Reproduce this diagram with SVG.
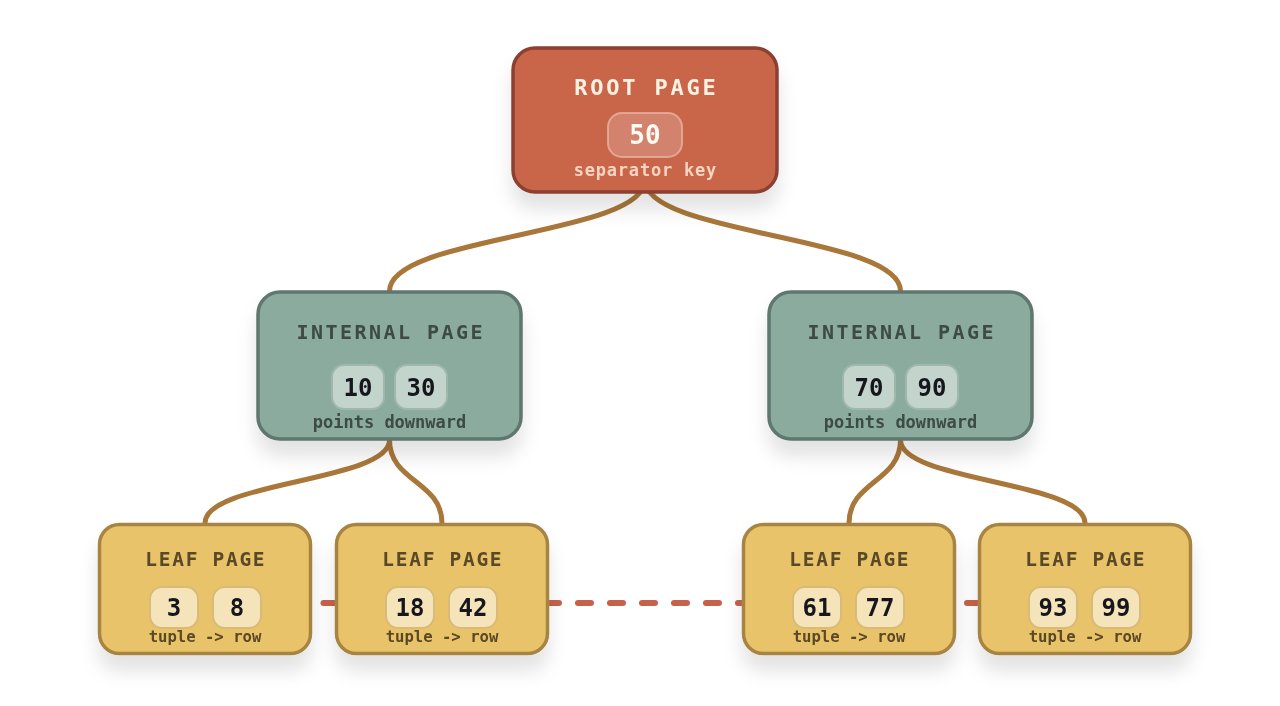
<svg xmlns="http://www.w3.org/2000/svg" width="1280" height="706" viewBox="0 0 1280 706">
  <defs>
    <filter id="shadow" x="-20%" y="-20%" width="140%" height="160%">
      <feDropShadow dx="0" dy="16" stdDeviation="9" flood-color="#000" flood-opacity="0.11"/>
    </filter>
    <style>
      text { font-family: "DejaVu Sans Mono", "Liberation Mono", monospace; font-weight: bold; text-anchor: middle; }
      .root { fill: #c96549; stroke: #8c4130; stroke-width: 3.5; }
      .internal { fill: #8aab9e; stroke: #5e776e; stroke-width: 3.5; }
      .leaf { fill: #e8c36b; stroke: #a88443; stroke-width: 3.5; }
      .rootpill { fill: #ffffff; fill-opacity: 0.2; stroke: #eab1a2; stroke-opacity: 0.8; stroke-width: 2; }
      .intpill { fill: #c3d4cd; stroke: #9fb8ad; stroke-width: 2; }
      .leafpill { fill: #f5e4ba; stroke: #d9bb79; stroke-width: 2; }
      .t-root { font-size: 22px; letter-spacing: 2.8px; fill: #fdf1e4; }
      .t-int { font-size: 20px; letter-spacing: 2.45px; fill: #3e4b46; }
      .t-leaf { font-size: 19.5px; letter-spacing: 1.7px; fill: #5a4828; }
      .k-root { font-size: 26px; fill: #fffaf4; }
      .k { font-size: 24px; fill: #15191d; }
      .s-root { font-size: 17px; letter-spacing: 0.8px; fill: #f7d4c2; }
      .s-int { font-size: 17px; fill: #3e4b46; }
      .s-leaf { font-size: 15.6px; fill: #5a4828; }
      .edge { fill: none; stroke: #a9773a; stroke-width: 5; stroke-linecap: round; }
      .sib { fill: none; stroke: #c7614a; stroke-width: 6; stroke-linecap: round; stroke-dasharray: 13 19; }
    </style>
  </defs>

  <g id="connectors">
    <path class="edge" d="M645,180 C645,235.5 389.5,235.5 389.5,291"/>
    <path class="edge" d="M645,180 C645,235.5 900.5,235.5 900.5,291"/>
    <path class="edge" d="M389.5,440 C389.5,481.5 205,481.5 205,523"/>
    <path class="edge" d="M389.5,440 C389.5,481.5 442,481.5 442,523"/>
    <path class="edge" d="M900.5,440 C900.5,481.5 849,481.5 849,523"/>
    <path class="edge" d="M900.5,440 C900.5,481.5 1085,481.5 1085,523"/>
    <path class="sib" d="M323.5,603 H345"/>
    <path class="sib" d="M546,603 H750"/>
    <path class="sib" d="M967,603 H990"/>
  </g>

  <g id="root" filter="url(#shadow)">
    <rect class="root" x="513" y="48" width="264" height="144" rx="22"/>
    <text class="t-root" x="646.4" y="94.5">ROOT PAGE</text>
    <rect class="rootpill" x="608" y="113" width="74" height="44" rx="14"/>
    <text class="k-root" x="645" y="143.5">50</text>
    <text class="s-root" x="645.4" y="176">separator key</text>
  </g>

  <g id="internal-left" filter="url(#shadow)">
    <rect class="internal" x="258" y="292" width="263" height="147" rx="22"/>
    <text class="t-int" x="390.7" y="338.5">INTERNAL PAGE</text>
    <rect class="intpill" x="332" y="365" width="52" height="44" rx="12"/>
    <text class="k" x="358" y="396">10</text>
    <rect class="intpill" x="395" y="365" width="52" height="44" rx="12"/>
    <text class="k" x="421" y="396">30</text>
    <text class="s-int" x="389.5" y="427.5">points downward</text>
  </g>

  <g id="internal-right" filter="url(#shadow)">
    <rect class="internal" x="769" y="292" width="263" height="147" rx="22"/>
    <text class="t-int" x="901.7" y="338.5">INTERNAL PAGE</text>
    <rect class="intpill" x="843" y="365" width="52" height="44" rx="12"/>
    <text class="k" x="869" y="396">70</text>
    <rect class="intpill" x="906" y="365" width="52" height="44" rx="12"/>
    <text class="k" x="932" y="396">90</text>
    <text class="s-int" x="900.5" y="427.5">points downward</text>
  </g>

  <g id="leaf-1" filter="url(#shadow)">
    <rect class="leaf" x="99.5" y="524.5" width="211" height="129" rx="20"/>
    <text class="t-leaf" x="205.8" y="566">LEAF PAGE</text>
    <rect class="leafpill" x="150" y="587" width="48" height="41" rx="12"/>
    <text class="k" x="174" y="616">3</text>
    <rect class="leafpill" x="213" y="587" width="48" height="41" rx="12"/>
    <text class="k" x="237" y="616">8</text>
    <text class="s-leaf" x="205" y="642">tuple -&gt; row</text>
  </g>

  <g id="leaf-2" filter="url(#shadow)">
    <rect class="leaf" x="336.5" y="524.5" width="211" height="129" rx="20"/>
    <text class="t-leaf" x="442.8" y="566">LEAF PAGE</text>
    <rect class="leafpill" x="386" y="587" width="48" height="41" rx="12"/>
    <text class="k" x="410" y="616">18</text>
    <rect class="leafpill" x="449" y="587" width="48" height="41" rx="12"/>
    <text class="k" x="473" y="616">42</text>
    <text class="s-leaf" x="442" y="642">tuple -&gt; row</text>
  </g>

  <g id="leaf-3" filter="url(#shadow)">
    <rect class="leaf" x="743.5" y="524.5" width="211" height="129" rx="20"/>
    <text class="t-leaf" x="849.8" y="566">LEAF PAGE</text>
    <rect class="leafpill" x="793" y="587" width="48" height="41" rx="12"/>
    <text class="k" x="817" y="616">61</text>
    <rect class="leafpill" x="856" y="587" width="48" height="41" rx="12"/>
    <text class="k" x="880" y="616">77</text>
    <text class="s-leaf" x="849" y="642">tuple -&gt; row</text>
  </g>

  <g id="leaf-4" filter="url(#shadow)">
    <rect class="leaf" x="979.5" y="524.5" width="211" height="129" rx="20"/>
    <text class="t-leaf" x="1085.8" y="566">LEAF PAGE</text>
    <rect class="leafpill" x="1029" y="587" width="48" height="41" rx="12"/>
    <text class="k" x="1053" y="616">93</text>
    <rect class="leafpill" x="1092" y="587" width="48" height="41" rx="12"/>
    <text class="k" x="1116" y="616">99</text>
    <text class="s-leaf" x="1085" y="642">tuple -&gt; row</text>
  </g>
</svg>
